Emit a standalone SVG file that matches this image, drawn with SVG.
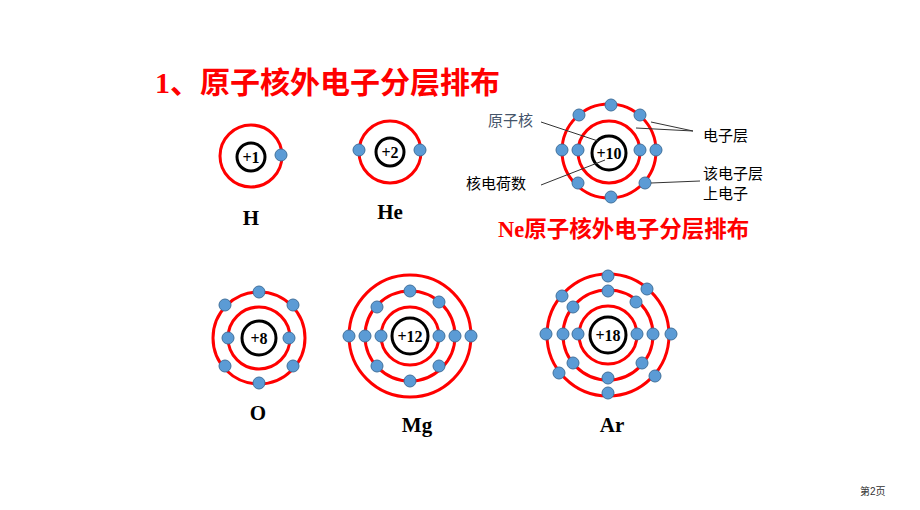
<svg xmlns="http://www.w3.org/2000/svg" width="920" height="510" viewBox="0 0 920 510">
<style>
.orb{fill:none;stroke:#f00;stroke-width:3}
.nuc{fill:#fff;stroke:#000;stroke-width:3}
.e{fill:#5b9bd5;stroke:#41719c;stroke-width:1}
.nt{font-family:"Liberation Serif",serif;font-weight:bold;font-size:16px;text-anchor:middle}
.lb{font-family:"Liberation Serif",serif;font-weight:bold;font-size:21px;text-anchor:middle}
.cn{font-family:"Liberation Sans","Noto Sans CJK SC",sans-serif;font-size:15px}
.ln{stroke:#333;stroke-width:1;fill:none}
</style>
<rect width="920" height="510" fill="#fff"/>
<text x="155" y="93" font-family="Liberation Serif,'Noto Sans CJK SC',serif" font-weight="bold" font-size="30" fill="#f00">1、原子核外电子分层排布</text>
<g id="H"><circle class="orb" cx="251" cy="156" r="31"/><circle class="nuc" cx="251" cy="157" r="14"/><text class="nt" x="251" y="163">+1</text><circle class="e" cx="281" cy="155" r="6"/><text class="lb" x="251" y="225">H</text></g>
<g id="He"><circle class="orb" cx="390" cy="152" r="31"/><circle class="nuc" cx="390" cy="152" r="14"/><text class="nt" x="390" y="158">+2</text><circle class="e" cx="359" cy="150" r="6"/><circle class="e" cx="420" cy="150" r="6"/><text class="lb" x="390" y="219">He</text></g>
<g id="Ne"><circle class="orb" cx="609" cy="152" r="31"/><circle class="orb" cx="609" cy="151" r="47"/><circle class="nuc" cx="609" cy="153" r="17"/><text class="nt" x="609" y="159">+10</text>
<circle class="e" cx="578" cy="150" r="6"/><circle class="e" cx="640" cy="150" r="6"/><circle class="e" cx="562" cy="150" r="6"/><circle class="e" cx="656" cy="150" r="6"/><circle class="e" cx="611" cy="105" r="6"/><circle class="e" cx="611" cy="197" r="6"/><circle class="e" cx="579" cy="115" r="6"/><circle class="e" cx="640" cy="115" r="6"/><circle class="e" cx="578" cy="183" r="6"/><circle class="e" cx="645" cy="183" r="6"/>
<text class="cn" x="488" y="126" fill="#44546a">原子核</text><text class="cn" x="703" y="141">电子层</text><text class="cn" x="466" y="189">核电荷数</text><text class="cn" x="703" y="179">该电子层</text><text class="cn" x="703" y="199">上电子</text>
<text x="498" y="237" font-family="Liberation Serif,'Noto Sans CJK SC',serif" font-weight="bold" font-size="22.5" fill="#f00">Ne原子核外电子分层排布</text></g>
<g id="O"><circle class="orb" cx="259" cy="338" r="31"/><circle class="orb" cx="259" cy="338" r="46"/><circle class="nuc" cx="259" cy="338" r="17"/><text class="nt" x="259" y="344">+8</text>
<circle class="e" cx="228" cy="338" r="6"/><circle class="e" cx="289" cy="338" r="6"/><circle class="e" cx="259" cy="292" r="6"/><circle class="e" cx="259" cy="383" r="6"/><circle class="e" cx="225" cy="305" r="6"/><circle class="e" cx="293" cy="305" r="6"/><circle class="e" cx="225" cy="366" r="6"/><circle class="e" cx="293" cy="366" r="6"/><text class="lb" x="258" y="420">O</text></g>
<g id="Mg"><circle class="orb" cx="410" cy="336" r="29"/><circle class="orb" cx="410" cy="336" r="45"/><circle class="orb" cx="410" cy="336" r="61"/><circle class="nuc" cx="410" cy="336" r="18"/><text class="nt" x="410" y="342">+12</text>
<circle class="e" cx="381" cy="336" r="6"/><circle class="e" cx="439" cy="336" r="6"/><circle class="e" cx="365" cy="336" r="6"/><circle class="e" cx="455" cy="336" r="6"/><circle class="e" cx="410" cy="291" r="6"/><circle class="e" cx="410" cy="381" r="6"/><circle class="e" cx="377" cy="307" r="6"/><circle class="e" cx="439" cy="302" r="6"/><circle class="e" cx="377" cy="366" r="6"/><circle class="e" cx="439" cy="366" r="6"/><circle class="e" cx="349" cy="336" r="6"/><circle class="e" cx="471" cy="336" r="6"/><text class="lb" x="417" y="432">Mg</text></g>
<g id="Ar"><circle class="orb" cx="608" cy="335" r="29"/><circle class="orb" cx="608" cy="335" r="45"/><circle class="orb" cx="608" cy="335" r="61"/><circle class="nuc" cx="608" cy="335" r="18"/><text class="nt" x="608" y="341">+18</text>
<circle class="e" cx="578" cy="334" r="6"/><circle class="e" cx="637" cy="334" r="6"/><circle class="e" cx="563" cy="334" r="6"/><circle class="e" cx="653" cy="334" r="6"/><circle class="e" cx="608" cy="291" r="6"/><circle class="e" cx="608" cy="378" r="6"/><circle class="e" cx="573" cy="307" r="6"/><circle class="e" cx="636" cy="302" r="6"/><circle class="e" cx="573" cy="363" r="6"/><circle class="e" cx="642" cy="363" r="6"/><circle class="e" cx="546" cy="334" r="6"/><circle class="e" cx="671" cy="334" r="6"/><circle class="e" cx="608" cy="276" r="6"/><circle class="e" cx="608" cy="393" r="6"/><circle class="e" cx="562" cy="296" r="6"/><circle class="e" cx="647" cy="289" r="6"/><circle class="e" cx="559" cy="373" r="6"/><circle class="e" cx="655" cy="376" r="6"/><text class="lb" x="612" y="432">Ar</text></g>
<g id="connectors"><path class="ln" d="M541 122L598 141"/><path class="ln" d="M693 131L651 122M693 131L636 128"/><path class="ln" d="M541 185L605 160"/><path class="ln" d="M700 181L651 183"/></g>
<text x="860" y="495" font-family="Liberation Sans,'Noto Sans CJK SC',sans-serif" font-size="10" fill="#333">第2页</text>
</svg>
